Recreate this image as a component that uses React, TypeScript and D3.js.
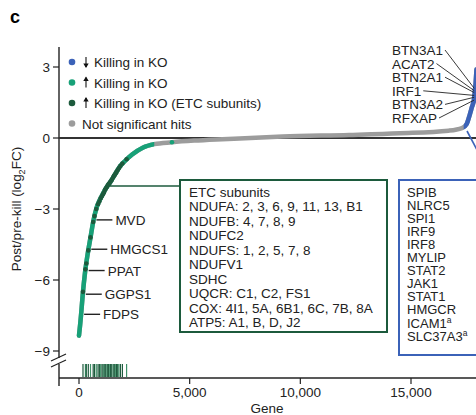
import React from "react";
import * as d3 from "d3";

// ranked gene curve (rank, log2FC)
const curveRanks = [0, 50, 100, 170, 270, 400, 520, 650, 810, 1000, 1200, 1400, 1650, 1850, 2100, 2400, 2900, 3400, 4200, 5200, 6200, 7500, 9200, 12200, 14500, 16700, 17300, 17520, 17650, 17750, 17840, 17880, 17910, 17960];
const curveValues = [-8.35, -7.9, -7.4, -6.6, -5.7, -4.85, -4.2, -3.5, -2.9, -2.5, -2.15, -1.88, -1.5, -1.2, -0.95, -0.7, -0.4, -0.26, -0.18, -0.11, -0.06, -0.01, 0.06, 0.13, 0.2, 0.31, 0.42, 0.6, 0.97, 1.3, 1.6, 1.9, 2.2, 2.9];

// ETC subunit hits
const etcRanks = [180, 290, 330, 420, 520, 640, 700, 780, 860, 920, 980, 1040, 1090, 1130, 1170, 1210, 1260, 1300, 1340, 1390, 1430, 1480, 1540, 1580, 1620, 1660, 1700, 1750, 1800, 1870, 1960, 2150];
const etcValues = [-6.5, -5.55, -5.3, -4.75, -4.2, -3.55, -3.3, -3.0, -2.8, -2.68, -2.55, -2.45, -2.37, -2.3, -2.2, -2.14, -2.07, -2.0, -1.95, -1.89, -1.84, -1.77, -1.67, -1.6, -1.55, -1.49, -1.43, -1.35, -1.28, -1.18, -1.08, -0.9];

const greenEndRank = 3400;
const blueStartRank = 17380;
const extraGreenRank = 4200;
const extraGreenValue = -0.18;

const lowGenes = ["MVD", "HMGCS1", "PPAT", "GGPS1", "FDPS"];
const lowRanks = [650, 420, 300, 170, 95];
const lowValues = [-3.46, -4.7, -5.6, -6.6, -7.45];

const highGenes = ["BTN3A1", "ACAT2", "BTN2A1", "IRF1", "BTN3A2", "RFXAP"];
const highRanks = [17900, 17900, 17900, 17898, 17896, 17894];
const highValues = [2.1, 2.0, 1.92, 1.8, 1.72, 1.6];

const etcBoxLines = ["ETC subunits", "NDUFA: 2, 3, 6, 9, 11, 13, B1", "NDUFB: 4, 7, 8, 9", "NDUFC2", "NDUFS: 1, 2, 5, 7, 8", "NDUFV1", "SDHC", "UQCR: C1, C2, FS1", "COX: 4I1, 5A, 6B1, 6C, 7B, 8A", "ATP5: A1, B, D, J2"];
const blueBoxLines = ["SPIB", "NLRC5", "SPI1", "IRF9", "IRF8", "MYLIP", "STAT2", "JAK1", "STAT1", "HMGCR", "ICAM1", "SLC37A3"];
const blueBoxSup = [false, false, false, false, false, false, false, false, false, false, true, true];

const yTicks = [3, 0, -3, -6, -9];
const xTicks = [0, 5000, 10000, 15000];

const legendLabels = ["Killing in KO", "Killing in KO", "Killing in KO (ETC subunits)", "Not significant hits"];
const legendArrows = ["down", "up", "up", "none"];

const FONT = '"Liberation Sans", Arial, Helvetica, sans-serif';
const BLUE = "#3b62b8";
const GREEN = "#17a178";
const DARK = "#1c5a3c";
const GRAY = "#9c9c9c";
const W = 476;
const H = 415;

function measure(text: string, size: number) {
  const ctx = document.createElement("canvas").getContext("2d");
  if (!ctx) return text.length * size * 0.6;
  ctx.font = `${size}px "Liberation Sans", Arial, sans-serif`;
  return ctx.measureText(text).width;
}

export default function App() {
  const x = d3.scaleLinear().domain([0, 15000]).range([79, 411]);
  const y = d3.scaleLinear().domain([-9, 3]).range([351, 67]);
  const pts = curveRanks.map((r, i) => [r, curveValues[i]] as [number, number]);
  const line = d3
    .line<[number, number]>()
    .x((d) => x(d[0]))
    .y((d) => y(d[1]))
    .curve(d3.curveMonotoneX);
  const path = line(pts) || "";
  const axisX = 59;
  const axisY = 378;
  const fs = 13.5;

  return (
    <svg width={W} height={H} style={{ position: "absolute", left: 0, top: 0 }} fontFamily={FONT}>
      <defs>
        <clipPath id="greenClip">
          <rect x={0} y={0} width={x(greenEndRank)} height={H} />
        </clipPath>
        <clipPath id="blueClip">
          <rect x={x(blueStartRank)} y={0} width={W} height={H} />
        </clipPath>
      </defs>
      <rect width={W} height={H} fill="#fff" />
      <text x={10} y={23} fontSize={18} fontWeight="bold">c</text>

      {/* y axis with break */}
      <line x1={axisX} x2={axisX} y1={47} y2={358} stroke="#222" strokeWidth={1.4} />
      <line x1={axisX} x2={axisX} y1={364} y2={386} stroke="#222" strokeWidth={1.4} />
      <line x1={51} y1={361} x2={66} y2={354} stroke="#222" strokeWidth={1.2} />
      <line x1={51} y1={367} x2={66} y2={360} stroke="#222" strokeWidth={1.2} />
      {yTicks.map((t) => (
        <g key={t}>
          <line x1={axisX - 6} x2={axisX} y1={y(t)} y2={y(t)} stroke="#222" strokeWidth={1.2} />
          <text x={50} y={y(t) + 5} fontSize={fs} textAnchor="end" fill="#222">
            {t < 0 ? `\u2212${Math.abs(t)}` : t}
          </text>
        </g>
      ))}
      <text transform={`translate(21,209) rotate(-90)`} fontSize={fs} textAnchor="middle" fill="#222">
        Post/pre-kill (log<tspan fontSize={9} dy={4}>2</tspan><tspan dy={-4}>FC)</tspan>
      </text>

      {/* x axis */}
      <line x1={axisX} x2={W} y1={axisY} y2={axisY} stroke="#222" strokeWidth={1.4} />
      {xTicks.map((t) => (
        <g key={t}>
          <line x1={x(t)} x2={x(t)} y1={axisY} y2={axisY + 6} stroke="#222" strokeWidth={1.2} />
          <text x={x(t)} y={397} fontSize={fs} textAnchor="middle" fill="#222">
            {d3.format(",")(t)}
          </text>
        </g>
      ))}
      <text x={267} y={413} fontSize={fs} textAnchor="middle" fill="#222">Gene</text>

      {/* zero line */}
      <line x1={axisX} x2={W} y1={y(0)} y2={y(0)} stroke="#333" strokeWidth={2} />

      {/* ranked curve */}
      <path d={path} fill="none" stroke={GRAY} strokeWidth={4.5} strokeLinecap="round" />
      <path d={path} fill="none" stroke={GREEN} strokeWidth={4.5} strokeLinecap="round" clipPath="url(#greenClip)" />
      <path d={path} fill="none" stroke={BLUE} strokeWidth={4.5} strokeLinecap="round" clipPath="url(#blueClip)" />
      <circle cx={x(extraGreenRank)} cy={y(extraGreenValue)} r={2.3} fill={GREEN} />
      {etcRanks.map((r, i) => (
        <circle key={i} cx={x(r)} cy={y(etcValues[i])} r={2.3} fill={DARK} />
      ))}
      {highRanks.map((r, i) => (
        <circle key={i} cx={x(r)} cy={y(highValues[i])} r={2.4} fill={BLUE} />
      ))}

      {/* rug of ETC subunits */}
      {etcRanks.map((r, i) => (
        <line key={i} x1={x(r)} x2={x(r)} y1={364} y2={377} stroke={i % 3 === 1 ? "#3f9168" : DARK} strokeWidth={1.2} />
      ))}

      {/* legend */}
      {legendLabels.map((lab, i) => {
        const cy = 62 + i * 20.5;
        const color = [BLUE, GREEN, DARK, GRAY][i];
        const arrow = legendArrows[i];
        const tx = arrow === "none" ? 82 : 94;
        return (
          <g key={i}>
            <circle cx={72} cy={cy} r={3.3} fill={color} />
            {arrow !== "none" && (
              <g stroke="#111" fill="#111">
                <line x1={86} x2={86} y1={cy - 5} y2={cy + 5} strokeWidth={1.1} />
                {arrow === "down" ? (
                  <path d={`M${83.3},${cy + 1.5} L${88.7},${cy + 1.5} L86,${cy + 6} Z`} stroke="none" />
                ) : (
                  <path d={`M${83.3},${cy - 1.5} L${88.7},${cy - 1.5} L86,${cy - 6} Z`} stroke="none" />
                )}
              </g>
            )}
            <text x={tx} y={cy + 5} fontSize={fs} fill="#222">{lab}</text>
          </g>
        );
      })}

      {/* low-end labelled genes */}
      {lowGenes.map((g, i) => {
        const px = x(lowRanks[i]);
        const py = y(lowValues[i]);
        return (
          <g key={g}>
            <line x1={px + 3} x2={px + 19} y1={py} y2={py} stroke="#222" strokeWidth={1.4} />
            <text x={px + 22} y={py + 5} fontSize={fs} fill="#222">{g}</text>
          </g>
        );
      })}

      {/* high-end labelled genes */}
      {highGenes.map((g, i) => {
        const cy = 50 + i * 13.6;
        const end = 392 + measure(g, fs) + 2;
        return (
          <g key={g}>
            <text x={392} y={cy + 5} fontSize={fs} fill="#222">{g}</text>
            <line x1={end} y1={cy} x2={x(highRanks[i]) - 1} y2={y(highValues[i])} stroke="#222" strokeWidth={0.9} />
          </g>
        );
      })}

      {/* ETC box */}
      <line x1={110} x2={180} y1={186} y2={186} stroke={DARK} strokeWidth={1.4} />
      <rect x={180} y={180} width={207} height={152} fill="#fff" stroke={DARK} strokeWidth={2} />
      {etcBoxLines.map((t, i) => (
        <text key={i} x={189} y={197 + i * 14.45} fontSize={fs} fill="#222">{t}</text>
      ))}

      {/* blue box */}
      <line x1={467} y1={131} x2={484} y2={163} stroke={BLUE} strokeWidth={1.6} />
      <rect x={399} y={180} width={100} height={175} fill="#fff" stroke={BLUE} strokeWidth={2} />
      {blueBoxLines.map((t, i) => (
        <text key={i} x={407} y={196.5 + i * 13.1} fontSize={13} fill="#222">
          {t}
          {blueBoxSup[i] && <tspan fontSize={8.5} dy={-5}>a</tspan>}
        </text>
      ))}
    </svg>
  );
}
